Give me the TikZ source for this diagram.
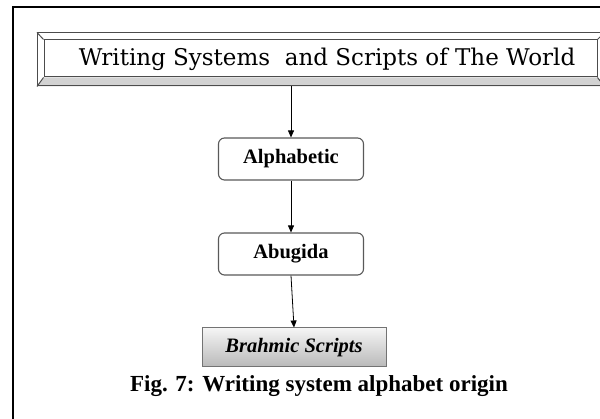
\documentclass[tikz,border=0pt]{standalone}
\usepackage{fontspec}
\setmainfont{Liberation Serif}
\newfontfamily\titlefont{DejaVu Serif}
\usetikzlibrary{arrows.meta,backgrounds}

\begin{document}
\begin{tikzpicture}[x=1pt,y=1pt,
    stage/.style={draw=black!65,line width=1.1pt,rounded corners=6pt,fill=white,
      minimum width=145pt,minimum height=42pt,font=\fontsize{20.5}{24}\selectfont\bfseries},
    flow/.style={-{Triangle[length=7pt,width=6pt]},line width=0.8pt},
    bevel/.style={draw=black!70,line width=1pt,inner sep=0pt}]
  \useasboundingbox (0,0) rectangle (600,419);
  % page frame
  \draw[line width=2pt] (12.5,-10) -- (12.5,411.5) -- (615,411.5);
  % title box with bevel
  \node (frame) at (320.75,359.5) [bevel,minimum width=566.5pt,minimum height=53pt] {};
  \node (inner) at (320.5,360.5) [bevel,minimum width=553pt,minimum height=37pt] {};
  \begin{scope}[on background layer]
    \fill[gray!35] (frame.south west) -- (frame.south east) -- (inner.south east) -- (inner.south west) -- cycle;
  \end{scope}
  \draw[bevel] (frame.north west) -- (inner.north west)
    (frame.north east) -- (inner.north east)
    (frame.south west) -- (inner.south west)
    (frame.south east) -- (inner.south east);
  \node (title) at (327,360) [font=\titlefont\fontsize{23}{26}\selectfont] {Writing Systems\ \ and Scripts of The World};
  % stages
  \node (alpha) at (291,260) [stage] {Alphabetic};
  \node (abug) at (291,165) [stage] {Abugida};
  \node (brahmic) at (294,71.5) [draw=black!55,line width=1pt,top color=gray!8,bottom color=gray!55,
    minimum width=184pt,minimum height=39pt,font=\fontsize{20.5}{24}\selectfont\bfseries\itshape] {Brahmic Scripts};
  \node (caption) at (319,27) [anchor=base,font=\fontsize{23}{26}\selectfont\bfseries] {Fig. 7: Writing system alphabet origin};
  \draw[flow] (frame.south -| alpha.north) -- (alpha.north);
  \draw[flow] (alpha) -- (abug);
  \draw[flow] (abug.south) -- (brahmic.north);
\end{tikzpicture}
\end{document}
